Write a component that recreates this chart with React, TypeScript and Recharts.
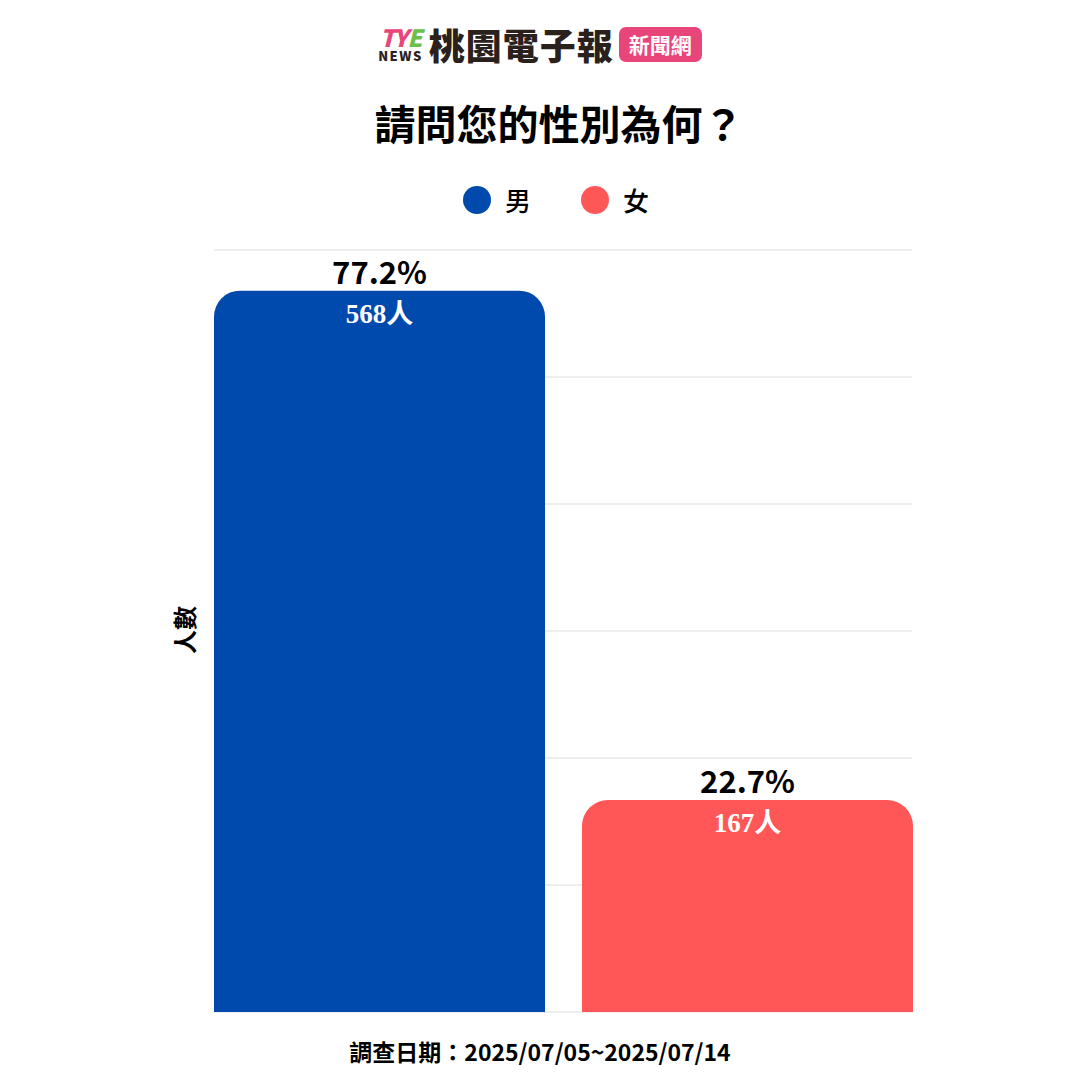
import { BarChart, Bar, XAxis, YAxis, CartesianGrid, LabelList } from 'recharts';

const genders = ['男', '女'];
const counts = [568, 167];
const percents = ['77.2%', '22.7%'];
const colors = ['#004AAD', '#FF5757'];
const yTicks = [0, 100, 200, 300, 400, 500, 600];

const row: Record<string, string | number> = { name: '性別' };
genders.forEach((g, i) => {
  row[g] = counts[i];
  row[g + '_pct'] = percents[i];
  row[g + '_cnt'] = counts[i] + '人';
});
const data = [row];

const SANS = '"Noto Sans CJK TC", "Noto Sans", sans-serif';
const SERIF = '"Liberation Serif", "DejaVu Serif", "Noto Sans CJK TC", serif';

// legend drawn as plain html so it does not eat into the plot height
const LegendRow = () => (
  <div
    style={{
      position: 'absolute',
      top: 186,
      left: 463,
      display: 'flex',
      gap: 50,
      fontFamily: SANS,
    }}
  >
    {genders.map((g, i) => (
      <div key={g} style={{ display: 'flex', alignItems: 'center', gap: 14 }}>
        <span
          style={{ width: 28, height: 28, borderRadius: '50%', background: colors[i], display: 'inline-block' }}
        />
        <span style={{ fontSize: 26, fontWeight: 500, color: '#000', lineHeight: '28px' }}>{g}</span>
      </div>
    ))}
  </div>
);

// stacked TYE / NEWS mark, as in the source logo
const Logo = () => (
  <div
    style={{
      position: 'absolute',
      top: 24,
      left: 0,
      width: 1080,
      display: 'flex',
      justifyContent: 'center',
      alignItems: 'center',
      fontFamily: SANS,
    }}
  >
    <div style={{ display: 'flex', flexDirection: 'column', alignItems: 'center', marginRight: 6, gap: 2 }}>
      <div style={{ fontSize: 24, fontWeight: 900, fontStyle: 'italic', letterSpacing: -1, lineHeight: '21px' }}>
        <span style={{ color: '#E8457A' }}>TY</span>
        <span style={{ color: '#6CC04A' }}>E</span>
      </div>
      <div style={{ fontSize: 13, fontWeight: 900, color: '#2b211c', letterSpacing: 1.5, lineHeight: '13px' }}>
        NEWS
      </div>
    </div>
    <div style={{ fontSize: 36, fontWeight: 900, color: '#2b211c', letterSpacing: 1, lineHeight: '40px' }}>
      桃園電子報
    </div>
    <div
      style={{
        marginLeft: 5,
        background: '#E8457A',
        color: '#fff',
        fontSize: 21,
        fontWeight: 700,
        borderRadius: 7,
        padding: '2px 10px',
        lineHeight: '31px',
      }}
    >
      新聞網
    </div>
  </div>
);

const App = () => {
  return (
    <div
      style={{
        position: 'fixed',
        top: 0,
        left: 0,
        width: 1080,
        height: 1080,
        background: '#fff',
        overflow: 'hidden',
      }}
    >
      <Logo />
      <div
        style={{
          position: 'absolute',
          top: 96,
          left: 19,
          width: 1080,
          textAlign: 'center',
          fontFamily: SANS,
          fontSize: 41,
          fontWeight: 700,
          color: '#000',
          lineHeight: '52px',
        }}
      >
        請問您的性別為何？
      </div>
      <LegendRow />
      <div
        style={{
          position: 'absolute',
          left: 184 - 40,
          top: 630 - 16,
          width: 80,
          height: 32,
          textAlign: 'center',
          transform: 'rotate(-90deg)',
          fontFamily: SANS,
          fontSize: 24,
          fontWeight: 700,
          color: '#000',
          lineHeight: '32px',
        }}
      >
        人數
      </div>
      <div style={{ position: 'absolute', top: 0, left: 0 }}>
        <BarChart
          width={1080}
          height={1080}
          data={data}
          margin={{ top: 250, right: 168, bottom: 68, left: 214 }}
          barCategoryGap={0}
          barGap={37}
        >
          <CartesianGrid vertical={false} stroke="#dddddd" />
          <XAxis dataKey="name" hide />
          <YAxis hide domain={[0, 600]} ticks={yTicks} />
          {genders.map((g, i) => (
            <Bar key={g} dataKey={g} fill={colors[i]} radius={[26, 26, 0, 0]} isAnimationActive={false}>
              <LabelList
                dataKey={g + '_pct'}
                position="top"
                offset={7}
                fill="#000"
                style={{ fontFamily: SANS, fontSize: 31, fontWeight: 700 }}
              />
              <LabelList
                dataKey={g + '_cnt'}
                position="insideTop"
                offset={13}
                fill="#fff"
                style={{ fontFamily: SERIF, fontSize: 27, fontWeight: 700 }}
              />
            </Bar>
          ))}
        </BarChart>
      </div>
      <div
        style={{
          position: 'absolute',
          top: 1035,
          width: 1080,
          textAlign: 'center',
          fontFamily: SANS,
          fontSize: 23,
          fontWeight: 700,
          color: '#000',
          lineHeight: '32px',
        }}
      >
        調查日期：2025/07/05~2025/07/14
      </div>
    </div>
  );
};

export default App;
